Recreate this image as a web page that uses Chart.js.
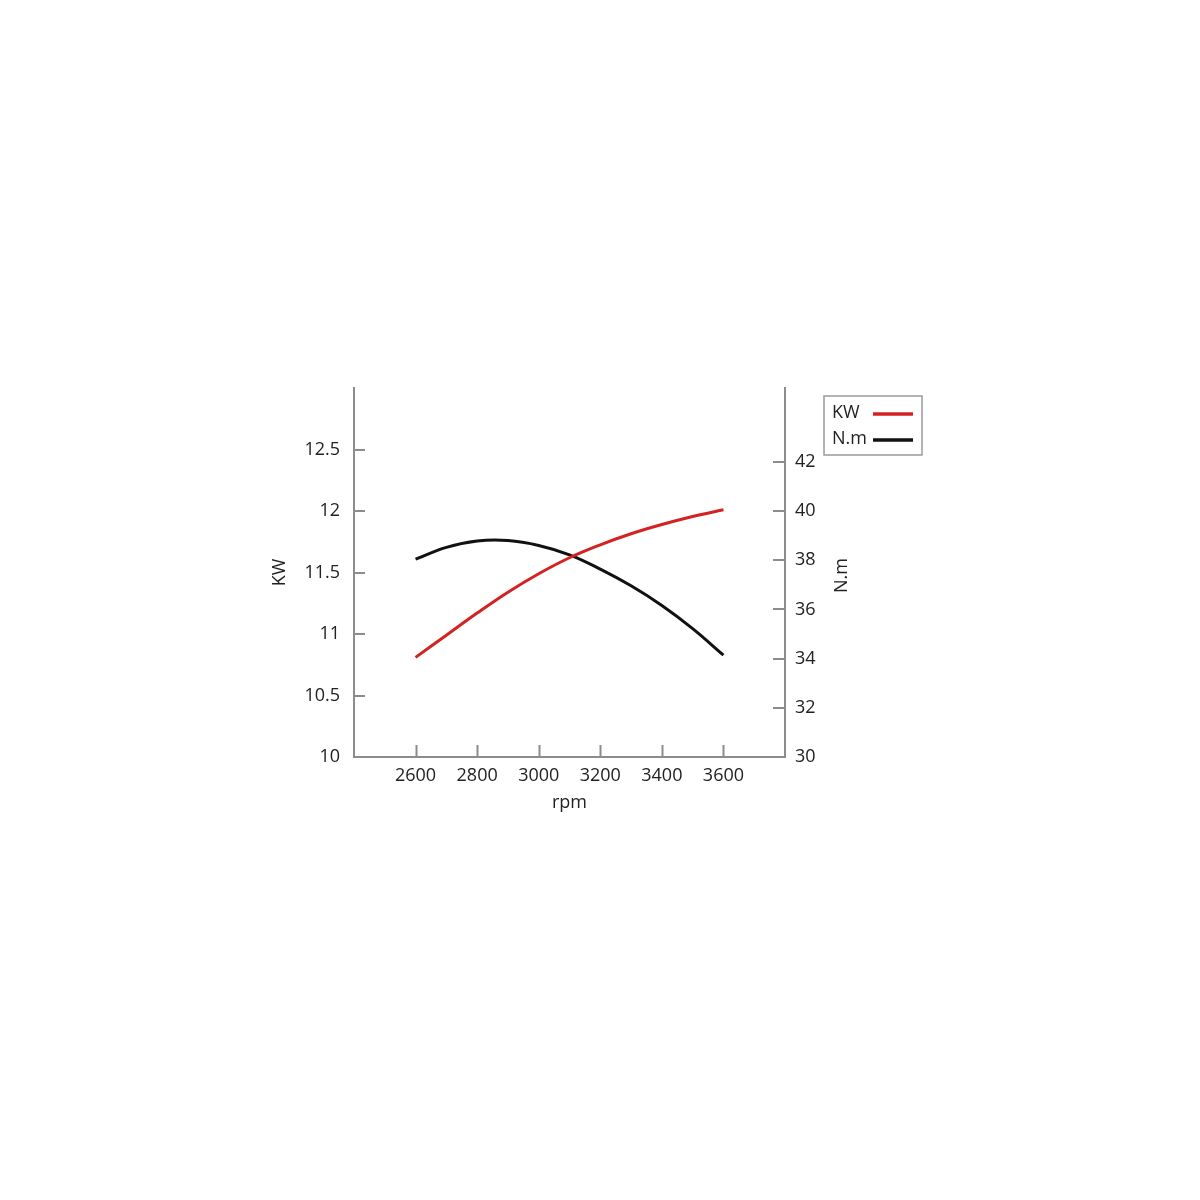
<!DOCTYPE html>
<html>
<head>
<meta charset="utf-8">
<script src="https://cdn.jsdelivr.net/npm/chart.js@4/dist/chart.umd.min.js"></script>
<style>
  html, body { margin: 0; padding: 0; background: #ffffff; }
  #wrap { width: 1200px; height: 1200px; }
</style>
</head>
<body>
<div id="wrap"><canvas id="c" width="1200" height="1200"></canvas></div>
<script>
const rpm = [2600, 2700, 2800, 2900, 3000, 3100, 3200, 3300, 3400, 3500, 3600];
const kwValues = [10.81, 10.99, 11.17, 11.34, 11.49, 11.62, 11.725, 11.815, 11.89, 11.955, 12.01];
const nmValues = [38.04, 38.52, 38.78, 38.80, 38.60, 38.22, 37.64, 36.96, 36.16, 35.22, 34.14];
const xLabelRange = [2600, 3600];
const kwLabelMax = 12.5;
const nmLabelMax = 42;

const AXIS_COLOR = '#8c8c8c';
const TEXT_COLOR = '#222222';
const FONT = '"Open Sans", "DejaVu Sans", sans-serif';

const extras = {
  id: 'extras',
  afterDraw(chart) {
    const ctx = chart.ctx;
    const area = chart.chartArea;
    const sx = chart.scales.x, sl = chart.scales.yKW, sr = chart.scales.yNM;
    ctx.save();
    ctx.strokeStyle = AXIS_COLOR;
    ctx.lineWidth = 2;
    // inward ticks
    sx.ticks.forEach(t => {
      if (!t.label) return;
      const px = Math.round(sx.getPixelForValue(t.value)) + 0.5;
      ctx.beginPath(); ctx.moveTo(px, area.bottom); ctx.lineTo(px, area.bottom - 12); ctx.stroke();
    });
    sl.ticks.forEach(t => {
      if (!t.label || t.value === sl.min) return;
      const py = Math.round(sl.getPixelForValue(t.value));
      ctx.beginPath(); ctx.moveTo(area.left, py); ctx.lineTo(area.left + 11, py); ctx.stroke();
    });
    sr.ticks.forEach(t => {
      if (!t.label || t.value === sr.min) return;
      const py = Math.round(sr.getPixelForValue(t.value));
      ctx.beginPath(); ctx.moveTo(area.right, py); ctx.lineTo(area.right - 12, py); ctx.stroke();
    });
    // right axis title (reads bottom to top)
    ctx.fillStyle = TEXT_COLOR;
    ctx.font = '18px ' + FONT;
    ctx.textAlign = 'center';
    ctx.textBaseline = 'middle';
    ctx.save();
    ctx.translate(area.right + 57, (area.top + area.bottom) / 2 + 3);
    ctx.rotate(-Math.PI / 2);
    ctx.fillText(sr.options.title.text, 0, 0);
    ctx.restore();
    // legend box
    const bx = area.right + 39, by = area.top + 8, bw = 98, bh = 59;
    ctx.fillStyle = '#ffffff';
    ctx.fillRect(bx, by, bw, bh);
    ctx.strokeStyle = '#9a9a9a';
    ctx.lineWidth = 1.5;
    ctx.strokeRect(bx, by, bw, bh);
    ctx.font = '18px ' + FONT;
    ctx.textAlign = 'left';
    chart.data.datasets.forEach((ds, i) => {
      const ty = by + 17 + i * 26;
      ctx.fillStyle = TEXT_COLOR;
      ctx.fillText(ds.label, bx + 8, ty);
      const tw = ctx.measureText(ds.label).width;
      ctx.strokeStyle = ds.borderColor;
      ctx.lineWidth = 3.5;
      ctx.beginPath();
      ctx.moveTo(Math.max(bx + 8 + tw + 2, bx + 49), ty + 1);
      ctx.lineTo(bx + 89, ty + 1);
      ctx.stroke();
    });
    ctx.restore();
  }
};

new Chart(document.getElementById('c'), {
  type: 'line',
  data: {
    datasets: [
      {
        label: 'KW',
        data: rpm.map((r, i) => ({ x: r, y: kwValues[i] })),
        yAxisID: 'yKW',
        borderColor: '#d42222',
        borderWidth: 3,
        pointRadius: 0,
        tension: 0.4,
        fill: false
      },
      {
        label: 'N.m',
        data: rpm.map((r, i) => ({ x: r, y: nmValues[i] })),
        yAxisID: 'yNM',
        borderColor: '#111111',
        borderWidth: 3,
        pointRadius: 0,
        tension: 0.4,
        fill: false
      }
    ]
  },
  options: {
    responsive: false,
    animation: false,
    events: [],
    layout: { padding: { left: 262, right: 300, top: 388, bottom: 383 } },
    plugins: { legend: { display: false }, tooltip: { enabled: false }, title: { display: false } },
    scales: {
      x: {
        type: 'linear',
        position: 'bottom',
        min: 2400, max: 3800,
        afterFit(s) { s.height = 60; },
        grid: { display: false, drawTicks: false },
        border: { display: true, color: AXIS_COLOR, width: 2 },
        ticks: {
          stepSize: 200,
          padding: 8,
          color: TEXT_COLOR,
          font: { family: FONT, size: 18 },
          callback: v => (v >= xLabelRange[0] && v <= xLabelRange[1]) ? String(v) : ''
        },
        title: { display: true, text: 'rpm', color: TEXT_COLOR, font: { family: FONT, size: 18 }, padding: { top: 0, bottom: 3 } }
      },
      yKW: {
        type: 'linear',
        position: 'left',
        min: 10, max: 13,
        afterFit(s) { s.width = 92; },
        grid: { display: false, drawTicks: false },
        border: { display: true, color: AXIS_COLOR, width: 2 },
        ticks: {
          stepSize: 0.5,
          padding: 14,
          color: TEXT_COLOR,
          font: { family: FONT, size: 18 },
          callback: v => v <= kwLabelMax ? String(v) : ''
        },
        title: { display: true, text: 'KW', color: TEXT_COLOR, font: { family: FONT, size: 18 }, padding: { top: 7, bottom: 0 } }
      },
      yNM: {
        type: 'linear',
        position: 'right',
        min: 30, max: 45,
        afterFit(s) { s.width = 115; },
        grid: { display: false, drawTicks: false },
        border: { display: true, color: AXIS_COLOR, width: 2 },
        ticks: {
          stepSize: 2,
          padding: 10,
          color: TEXT_COLOR,
          font: { family: FONT, size: 18 },
          callback: v => v <= nmLabelMax ? String(v) : ''
        },
        title: { display: false, text: 'N.m' }
      }
    }
  },
  plugins: [extras]
});
</script>
</body>
</html>
